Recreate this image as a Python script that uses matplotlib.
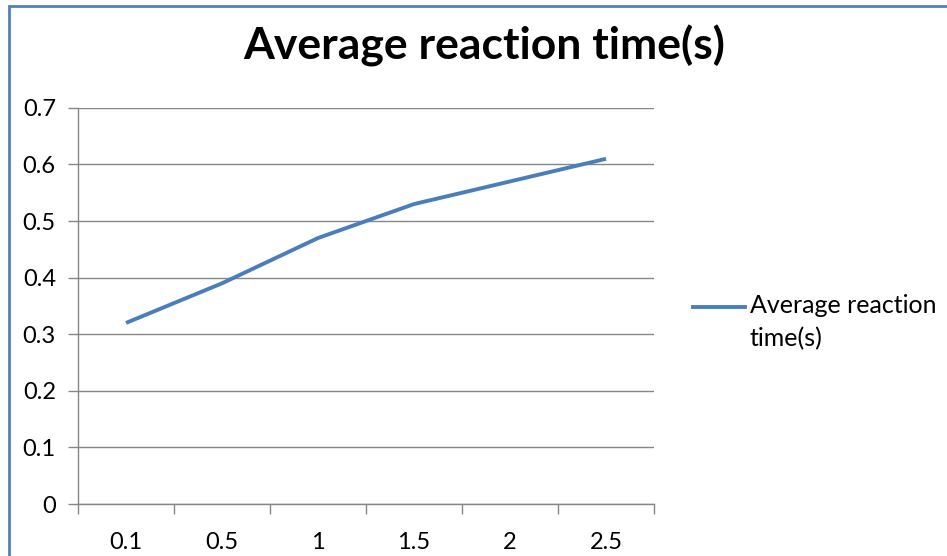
import matplotlib.pyplot as plt
from matplotlib.lines import Line2D
from matplotlib.patches import Rectangle

plt.rcParams['font.family'] = ['Lato', 'DejaVu Sans']

# delay values (categories) and measured average reaction time
categories = ['0.1', '0.5', '1', '1.5', '2', '2.5']
reaction_time = [0.32, 0.39, 0.47, 0.53, 0.57, 0.61]
series_name = 'Average reaction time(s)'

grid_color = '#868686'
line_color = '#4A7EBB'

fig = plt.figure(figsize=(9.47, 5.56), dpi=100)
ax = fig.add_axes([0.0824, 0.0935, 0.6082, 0.7125])

xs = list(range(len(categories)))
ax.plot(xs, reaction_time, color=line_color, linewidth=2.8, solid_capstyle='butt')

ax.set_xlim(-0.5, len(categories) - 0.5)
ax.set_ylim(0, 0.7)
ax.set_yticks([0, 0.1, 0.2, 0.3, 0.4, 0.5, 0.6, 0.7])
ax.set_yticklabels(['0', '0.1', '0.2', '0.3', '0.4', '0.5', '0.6', '0.7'])
ax.set_xticks(xs)
ax.set_xticklabels(categories)
ax.set_xticks([i - 0.5 for i in range(len(categories) + 1)], minor=True)

ax.tick_params(axis='x', which='major', length=0, labelsize=17, pad=20)
ax.tick_params(axis='x', which='minor', length=7, width=1, color=grid_color, direction='out')
ax.tick_params(axis='y', length=7, width=1, color=grid_color, labelsize=17, pad=9)

ax.grid(axis='y', color=grid_color, linewidth=1)
ax.set_axisbelow(True)
for s in ['top', 'right']:
    ax.spines[s].set_visible(False)
for s in ['left', 'bottom']:
    ax.spines[s].set_color(grid_color)
    ax.spines[s].set_linewidth(1)

fig.text(0.511, 0.918, series_name, ha='center', va='center',
         fontsize=32, fontweight='bold')

# legend: handle next to first line of the wrapped label
fig.add_artist(Line2D([693 / 947, 745 / 947], [1 - 307 / 556, 1 - 307 / 556],
                      color=line_color, linewidth=2.8))
fig.text(750 / 947, 1 - 294 / 556, 'Average reaction\ntime(s)', ha='left', va='top',
         fontsize=18, linespacing=1.5)

# chart frame
fig.add_artist(Rectangle((9 / 947, -0.05), 1.1, 1 - 6 / 556 + 0.05, transform=fig.transFigure,
                         fill=False, edgecolor='#4F81BD', linewidth=2))

fig.savefig('out.png', dpi=100)
